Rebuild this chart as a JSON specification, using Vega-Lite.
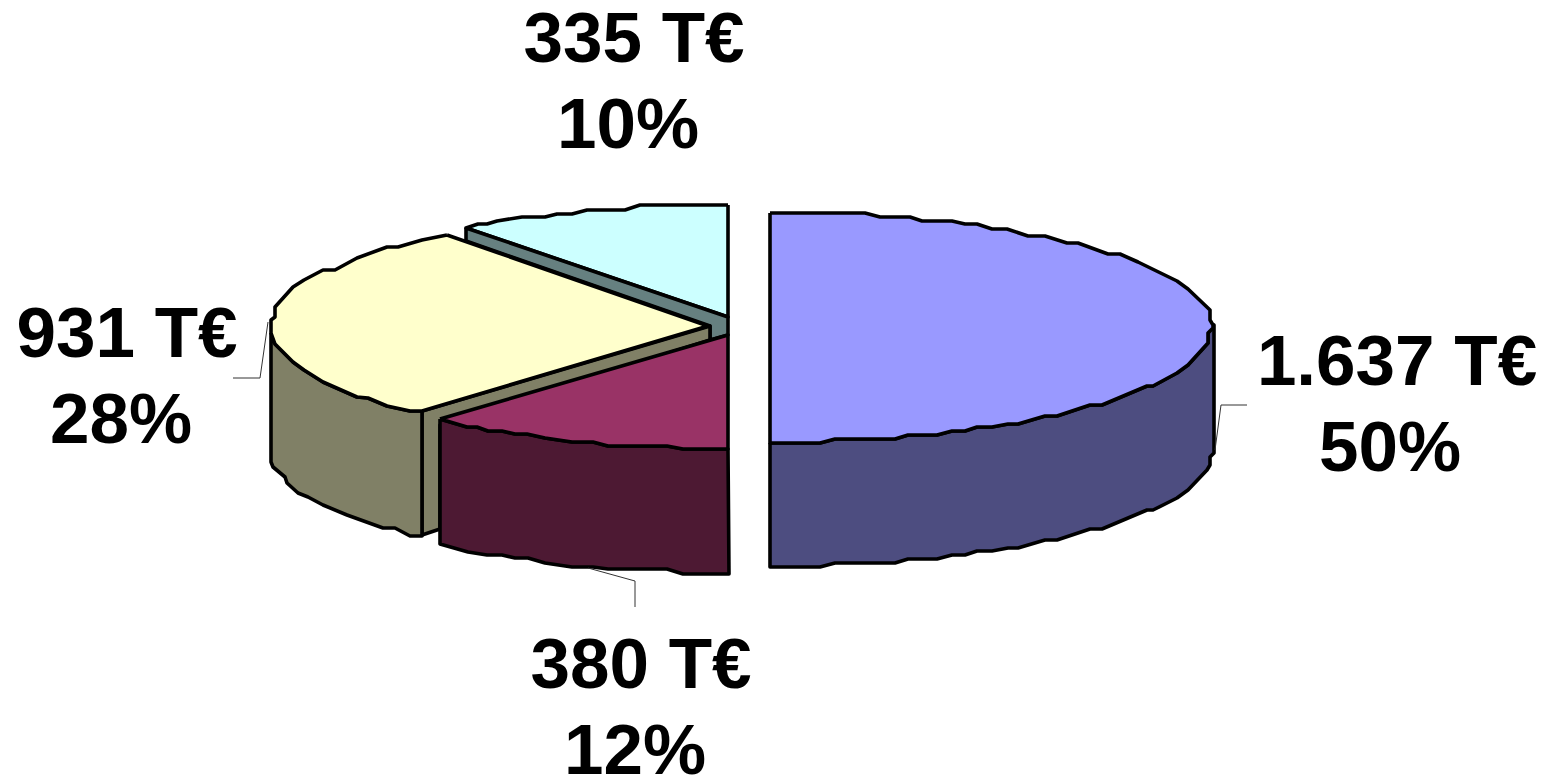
{
  "$schema": "https://vega.github.io/schema/vega-lite/v6.json",
  "width": 1544,
  "height": 777,
  "padding": 0,
  "autosize": {"type": "none"},
  "background": "white",
  "view": {"stroke": null},
  "datasets": {
    "faces": [
      {"face":"cyan top","i":0,"x":728,"y":205},{"face":"cyan top","i":1,"x":640,"y":205},{"face":"cyan top","i":2,"x":625,"y":210},{"face":"cyan top","i":3,"x":587,"y":210},{"face":"cyan top","i":4,"x":572,"y":214},{"face":"cyan top","i":5,"x":557,"y":214},{"face":"cyan top","i":6,"x":545,"y":217},{"face":"cyan top","i":7,"x":522,"y":217},{"face":"cyan top","i":8,"x":497,"y":221},{"face":"cyan top","i":9,"x":487,"y":224},{"face":"cyan top","i":10,"x":478,"y":224},{"face":"cyan top","i":11,"x":466,"y":228},{"face":"cyan top","i":12,"x":728,"y":317},{"face":"cyan top","i":13,"x":728,"y":205},

      {"face":"cyan side","i":0,"x":466,"y":228},{"face":"cyan side","i":1,"x":728,"y":317},{"face":"cyan side","i":2,"x":728,"y":335},{"face":"cyan side","i":3,"x":710,"y":340},{"face":"cyan side","i":4,"x":710,"y":326},{"face":"cyan side","i":5,"x":466,"y":241},{"face":"cyan side","i":6,"x":466,"y":228},

      {"face":"cream cut","i":0,"x":422,"y":411},{"face":"cream cut","i":1,"x":710,"y":326},{"face":"cream cut","i":2,"x":710,"y":340},{"face":"cream cut","i":3,"x":440,"y":425},{"face":"cream cut","i":4,"x":440,"y":529},{"face":"cream cut","i":5,"x":422,"y":535},{"face":"cream cut","i":6,"x":422,"y":411},

      {"face":"cream side","i":0,"x":271,"y":333},{"face":"cream side","i":1,"x":275,"y":344},{"face":"cream side","i":2,"x":293,"y":362},{"face":"cream side","i":3,"x":304,"y":370},{"face":"cream side","i":4,"x":323,"y":382},{"face":"cream side","i":5,"x":357,"y":397},{"face":"cream side","i":6,"x":368,"y":398},{"face":"cream side","i":7,"x":387,"y":406},{"face":"cream side","i":8,"x":410,"y":411},{"face":"cream side","i":9,"x":422,"y":411},{"face":"cream side","i":10,"x":422,"y":536},{"face":"cream side","i":11,"x":410,"y":536},{"face":"cream side","i":12,"x":395,"y":528},{"face":"cream side","i":13,"x":383,"y":528},{"face":"cream side","i":14,"x":347,"y":515},{"face":"cream side","i":15,"x":323,"y":505},{"face":"cream side","i":16,"x":308,"y":497},{"face":"cream side","i":17,"x":298,"y":493},{"face":"cream side","i":18,"x":287,"y":483},{"face":"cream side","i":19,"x":285,"y":477},{"face":"cream side","i":20,"x":273,"y":467},{"face":"cream side","i":21,"x":271,"y":462},{"face":"cream side","i":22,"x":271,"y":333},

      {"face":"cream top","i":0,"x":447,"y":235},{"face":"cream top","i":1,"x":422,"y":240},{"face":"cream top","i":2,"x":398,"y":247},{"face":"cream top","i":3,"x":387,"y":247},{"face":"cream top","i":4,"x":357,"y":258},{"face":"cream top","i":5,"x":335,"y":270},{"face":"cream top","i":6,"x":323,"y":270},{"face":"cream top","i":7,"x":304,"y":280},{"face":"cream top","i":8,"x":293,"y":287},{"face":"cream top","i":9,"x":275,"y":307},{"face":"cream top","i":10,"x":275,"y":317},{"face":"cream top","i":11,"x":271,"y":320},{"face":"cream top","i":12,"x":271,"y":333},{"face":"cream top","i":13,"x":275,"y":344},{"face":"cream top","i":14,"x":293,"y":362},{"face":"cream top","i":15,"x":304,"y":370},{"face":"cream top","i":16,"x":323,"y":382},{"face":"cream top","i":17,"x":357,"y":397},{"face":"cream top","i":18,"x":368,"y":398},{"face":"cream top","i":19,"x":387,"y":406},{"face":"cream top","i":20,"x":410,"y":411},{"face":"cream top","i":21,"x":422,"y":411},{"face":"cream top","i":22,"x":708,"y":326},{"face":"cream top","i":23,"x":447,"y":235},

      {"face":"maroon side","i":0,"x":440,"y":419},{"face":"maroon side","i":1,"x":467,"y":427},{"face":"maroon side","i":2,"x":477,"y":427},{"face":"maroon side","i":3,"x":488,"y":431},{"face":"maroon side","i":4,"x":502,"y":431},{"face":"maroon side","i":5,"x":515,"y":434},{"face":"maroon side","i":6,"x":527,"y":434},{"face":"maroon side","i":7,"x":545,"y":438},{"face":"maroon side","i":8,"x":572,"y":442},{"face":"maroon side","i":9,"x":593,"y":442},{"face":"maroon side","i":10,"x":608,"y":446},{"face":"maroon side","i":11,"x":667,"y":446},{"face":"maroon side","i":12,"x":683,"y":449},{"face":"maroon side","i":13,"x":728,"y":449},{"face":"maroon side","i":14,"x":729,"y":574},{"face":"maroon side","i":15,"x":683,"y":574},{"face":"maroon side","i":16,"x":667,"y":569},{"face":"maroon side","i":17,"x":608,"y":569},{"face":"maroon side","i":18,"x":593,"y":567},{"face":"maroon side","i":19,"x":572,"y":567},{"face":"maroon side","i":20,"x":545,"y":563},{"face":"maroon side","i":21,"x":528,"y":558},{"face":"maroon side","i":22,"x":515,"y":558},{"face":"maroon side","i":23,"x":502,"y":555},{"face":"maroon side","i":24,"x":487,"y":555},{"face":"maroon side","i":25,"x":468,"y":552},{"face":"maroon side","i":26,"x":440,"y":544},{"face":"maroon side","i":27,"x":440,"y":419},

      {"face":"maroon top","i":0,"x":440,"y":419},{"face":"maroon top","i":1,"x":728,"y":335},{"face":"maroon top","i":2,"x":728,"y":449},{"face":"maroon top","i":3,"x":683,"y":449},{"face":"maroon top","i":4,"x":667,"y":446},{"face":"maroon top","i":5,"x":608,"y":446},{"face":"maroon top","i":6,"x":593,"y":442},{"face":"maroon top","i":7,"x":572,"y":442},{"face":"maroon top","i":8,"x":545,"y":438},{"face":"maroon top","i":9,"x":527,"y":434},{"face":"maroon top","i":10,"x":515,"y":434},{"face":"maroon top","i":11,"x":502,"y":431},{"face":"maroon top","i":12,"x":488,"y":431},{"face":"maroon top","i":13,"x":477,"y":427},{"face":"maroon top","i":14,"x":467,"y":427},{"face":"maroon top","i":15,"x":440,"y":419},

      {"face":"blue side","i":0,"x":770,"y":443},{"face":"blue side","i":1,"x":820,"y":443},{"face":"blue side","i":2,"x":835,"y":439},{"face":"blue side","i":3,"x":895,"y":439},{"face":"blue side","i":4,"x":908,"y":435},{"face":"blue side","i":5,"x":937,"y":435},{"face":"blue side","i":6,"x":952,"y":431},{"face":"blue side","i":7,"x":965,"y":431},{"face":"blue side","i":8,"x":977,"y":427},{"face":"blue side","i":9,"x":992,"y":427},{"face":"blue side","i":10,"x":1008,"y":424},{"face":"blue side","i":11,"x":1018,"y":424},{"face":"blue side","i":12,"x":1045,"y":416},{"face":"blue side","i":13,"x":1057,"y":416},{"face":"blue side","i":14,"x":1090,"y":405},{"face":"blue side","i":15,"x":1102,"y":405},{"face":"blue side","i":16,"x":1147,"y":386},{"face":"blue side","i":17,"x":1153,"y":386},{"face":"blue side","i":18,"x":1177,"y":373},{"face":"blue side","i":19,"x":1188,"y":365},{"face":"blue side","i":20,"x":1208,"y":343},{"face":"blue side","i":21,"x":1208,"y":333},{"face":"blue side","i":22,"x":1214,"y":325},{"face":"blue side","i":23,"x":1214,"y":453},{"face":"blue side","i":24,"x":1210,"y":457},{"face":"blue side","i":25,"x":1210,"y":465},{"face":"blue side","i":26,"x":1207,"y":470},{"face":"blue side","i":27,"x":1188,"y":490},{"face":"blue side","i":28,"x":1177,"y":498},{"face":"blue side","i":29,"x":1153,"y":510},{"face":"blue side","i":30,"x":1147,"y":510},{"face":"blue side","i":31,"x":1102,"y":529},{"face":"blue side","i":32,"x":1090,"y":529},{"face":"blue side","i":33,"x":1057,"y":540},{"face":"blue side","i":34,"x":1045,"y":540},{"face":"blue side","i":35,"x":1018,"y":548},{"face":"blue side","i":36,"x":1008,"y":548},{"face":"blue side","i":37,"x":992,"y":551},{"face":"blue side","i":38,"x":977,"y":551},{"face":"blue side","i":39,"x":965,"y":555},{"face":"blue side","i":40,"x":952,"y":555},{"face":"blue side","i":41,"x":937,"y":559},{"face":"blue side","i":42,"x":908,"y":559},{"face":"blue side","i":43,"x":895,"y":563},{"face":"blue side","i":44,"x":835,"y":563},{"face":"blue side","i":45,"x":820,"y":567},{"face":"blue side","i":46,"x":770,"y":567},{"face":"blue side","i":47,"x":770,"y":443},

      {"face":"blue top","i":0,"x":770,"y":213},{"face":"blue top","i":1,"x":865,"y":213},{"face":"blue top","i":2,"x":880,"y":217},{"face":"blue top","i":3,"x":910,"y":217},{"face":"blue top","i":4,"x":922,"y":221},{"face":"blue top","i":5,"x":952,"y":221},{"face":"blue top","i":6,"x":965,"y":224},{"face":"blue top","i":7,"x":977,"y":224},{"face":"blue top","i":8,"x":992,"y":229},{"face":"blue top","i":9,"x":1007,"y":229},{"face":"blue top","i":10,"x":1028,"y":236},{"face":"blue top","i":11,"x":1045,"y":236},{"face":"blue top","i":12,"x":1067,"y":243},{"face":"blue top","i":13,"x":1078,"y":243},{"face":"blue top","i":14,"x":1108,"y":254},{"face":"blue top","i":15,"x":1120,"y":254},{"face":"blue top","i":16,"x":1138,"y":262},{"face":"blue top","i":17,"x":1177,"y":281},{"face":"blue top","i":18,"x":1188,"y":289},{"face":"blue top","i":19,"x":1210,"y":310},{"face":"blue top","i":20,"x":1210,"y":320},{"face":"blue top","i":21,"x":1213,"y":325},{"face":"blue top","i":22,"x":1213,"y":328},{"face":"blue top","i":23,"x":1208,"y":333},{"face":"blue top","i":24,"x":1208,"y":343},{"face":"blue top","i":25,"x":1188,"y":365},{"face":"blue top","i":26,"x":1177,"y":373},{"face":"blue top","i":27,"x":1153,"y":386},{"face":"blue top","i":28,"x":1147,"y":386},{"face":"blue top","i":29,"x":1102,"y":405},{"face":"blue top","i":30,"x":1090,"y":405},{"face":"blue top","i":31,"x":1057,"y":416},{"face":"blue top","i":32,"x":1045,"y":416},{"face":"blue top","i":33,"x":1018,"y":424},{"face":"blue top","i":34,"x":1008,"y":424},{"face":"blue top","i":35,"x":992,"y":427},{"face":"blue top","i":36,"x":977,"y":427},{"face":"blue top","i":37,"x":965,"y":431},{"face":"blue top","i":38,"x":952,"y":431},{"face":"blue top","i":39,"x":937,"y":435},{"face":"blue top","i":40,"x":908,"y":435},{"face":"blue top","i":41,"x":895,"y":439},{"face":"blue top","i":42,"x":835,"y":439},{"face":"blue top","i":43,"x":820,"y":443},{"face":"blue top","i":44,"x":770,"y":443},{"face":"blue top","i":45,"x":770,"y":213}
    ],
    "leaders": [
      {"slice":"931","i":0,"x":268,"y":322},{"slice":"931","i":1,"x":260,"y":378},{"slice":"931","i":2,"x":233,"y":378},
      {"slice":"1637","i":0,"x":1215,"y":450},{"slice":"1637","i":1,"x":1221,"y":405},{"slice":"1637","i":2,"x":1247,"y":405},
      {"slice":"380","i":0,"x":588,"y":568},{"slice":"380","i":1,"x":635,"y":581},{"slice":"380","i":2,"x":635,"y":607}
    ],
    "labels": [
      {"text":"335 T€","x":634,"y":62},{"text":"10%","x":628,"y":148},
      {"text":"931 T€","x":127,"y":357},{"text":"28%","x":121,"y":443},
      {"text":"1.637 T€","x":1397,"y":385},{"text":"50%","x":1390,"y":471},
      {"text":"380 T€","x":641,"y":688},{"text":"12%","x":635,"y":774}
    ]
  },
  "layer": [
    {
      "data": {"name": "faces"},
      "mark": {"type": "line", "stroke": "#000000", "strokeWidth": 3.6, "strokeJoin": "round", "clip": false},
      "encoding": {
        "x": {"field": "x", "type": "quantitative", "scale": {"domain": [0, 1544], "nice": false, "zero": false}, "axis": null},
        "y": {"field": "y", "type": "quantitative", "scale": {"domain": [777, 0], "nice": false, "zero": false}, "axis": null},
        "order": {"field": "i", "type": "quantitative"},
        "fill": {
          "field": "face",
          "type": "nominal",
          "legend": null,
          "scale": {
            "domain": ["cyan top","cyan side","cream cut","cream side","cream top","maroon side","maroon top","blue side","blue top"],
            "range": ["#CCFFFF","#668080","#808066","#808066","#FFFFCC","#4D1933","#993366","#4D4D80","#9999FF"]
          }
        }
      }
    },
    {
      "data": {"name": "leaders"},
      "mark": {"type": "line", "stroke": "#333333", "strokeWidth": 1},
      "encoding": {
        "x": {"field": "x", "type": "quantitative", "axis": null},
        "y": {"field": "y", "type": "quantitative", "axis": null},
        "detail": {"field": "slice"},
        "order": {"field": "i", "type": "quantitative"}
      }
    },
    {
      "data": {"name": "labels"},
      "mark": {"type": "text", "font": "Liberation Sans", "fontWeight": "bold", "fontSize": 71, "align": "center", "baseline": "alphabetic", "color": "#000000"},
      "encoding": {
        "x": {"field": "x", "type": "quantitative", "axis": null},
        "y": {"field": "y", "type": "quantitative", "axis": null},
        "text": {"field": "text"}
      }
    }
  ]
}
